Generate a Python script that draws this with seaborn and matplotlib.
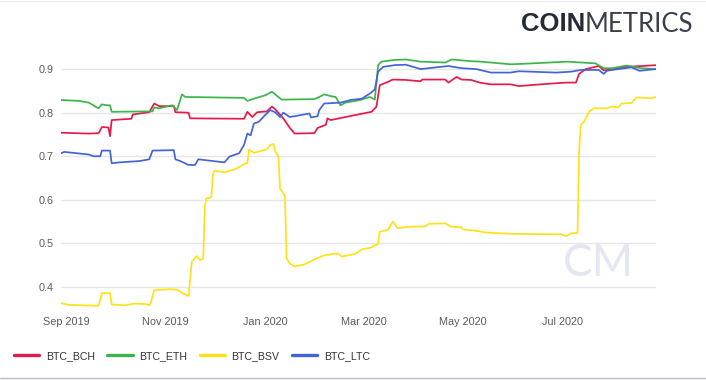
import matplotlib
matplotlib.use('Agg')
import matplotlib.pyplot as plt
import matplotlib.dates as mdates
from matplotlib.lines import Line2D
import seaborn as sns
import pandas as pd

# Correlation of each pair's returns with BTC
bch_dates = ["2019-08-29", "2019-09-15", "2019-09-21", "2019-09-23", "2019-09-27", "2019-09-28",
             "2019-09-29", "2019-10-11", "2019-10-12", "2019-10-22", "2019-10-25", "2019-10-28",
             "2019-11-06", "2019-11-07", "2019-11-15", "2019-11-16", "2019-12-19", "2019-12-21",
             "2019-12-24", "2019-12-27", "2020-01-02", "2020-01-05", "2020-01-07", "2020-01-12",
             "2020-01-16", "2020-01-19", "2020-01-31", "2020-02-02", "2020-02-07", "2020-02-08",
             "2020-02-10", "2020-02-19", "2020-03-02", "2020-03-06", "2020-03-09", "2020-03-11",
             "2020-03-15", "2020-03-19", "2020-03-27", "2020-04-05", "2020-04-06", "2020-04-20",
             "2020-04-22", "2020-04-27", "2020-04-30", "2020-05-06", "2020-05-11", "2020-05-18",
             "2020-05-30", "2020-06-04", "2020-06-21", "2020-07-03", "2020-07-09", "2020-07-11",
             "2020-07-15", "2020-07-23", "2020-07-26", "2020-08-02", "2020-08-09", "2020-08-27"]
bch_values = [0.754, 0.752, 0.753, 0.767, 0.766, 0.746,
              0.783, 0.786, 0.796, 0.801, 0.821, 0.815,
              0.815, 0.801, 0.800, 0.787, 0.786, 0.802,
              0.790, 0.801, 0.803, 0.814, 0.808, 0.787,
              0.765, 0.752, 0.753, 0.765, 0.772, 0.787,
              0.783, 0.790, 0.799, 0.802, 0.814, 0.863,
              0.869, 0.876, 0.875, 0.872, 0.876, 0.876,
              0.869, 0.882, 0.876, 0.875, 0.869, 0.865,
              0.865, 0.861, 0.866, 0.869, 0.869, 0.889,
              0.900, 0.907, 0.897, 0.900, 0.905, 0.909]

eth_dates = ["2019-08-29", "2019-09-09", "2019-09-15", "2019-09-20", "2019-09-21", "2019-09-23",
             "2019-09-26", "2019-09-28", "2019-09-29", "2019-10-24", "2019-10-25", "2019-10-28",
             "2019-11-05", "2019-11-08", "2019-11-11", "2019-11-13", "2019-12-19", "2019-12-21",
             "2019-12-24", "2020-01-01", "2020-01-05", "2020-01-08", "2020-01-11", "2020-01-31",
             "2020-02-03", "2020-02-06", "2020-02-10", "2020-02-13", "2020-02-16", "2020-02-19",
             "2020-02-28", "2020-03-05", "2020-03-08", "2020-03-10", "2020-03-12", "2020-03-20",
             "2020-03-27", "2020-04-05", "2020-04-20", "2020-04-24", "2020-05-06", "2020-05-12",
             "2020-05-30", "2020-06-06", "2020-07-04", "2020-07-21", "2020-07-26", "2020-07-31",
             "2020-08-09", "2020-08-18", "2020-08-27"]
eth_values = [0.829, 0.827, 0.823, 0.812, 0.810, 0.819,
              0.817, 0.817, 0.802, 0.803, 0.812, 0.810,
              0.817, 0.806, 0.842, 0.836, 0.834, 0.827,
              0.831, 0.840, 0.848, 0.839, 0.830, 0.831,
              0.836, 0.842, 0.838, 0.836, 0.817, 0.823,
              0.829, 0.836, 0.830, 0.909, 0.917, 0.921,
              0.922, 0.917, 0.915, 0.922, 0.918, 0.917,
              0.911, 0.912, 0.917, 0.913, 0.902, 0.902,
              0.908, 0.902, 0.900]

bsv_dates = ["2019-08-29", "2019-09-03", "2019-09-21", "2019-09-23", "2019-09-28", "2019-09-29",
             "2019-10-07", "2019-10-13", "2019-10-20", "2019-10-22", "2019-10-23", "2019-10-25",
             "2019-11-04", "2019-11-08", "2019-11-11", "2019-11-15", "2019-11-17", "2019-11-20",
             "2019-11-22", "2019-11-24", "2019-11-25", "2019-11-26", "2019-11-29", "2019-11-30",
             "2019-12-01", "2019-12-07", "2019-12-14", "2019-12-19", "2019-12-21", "2019-12-22",
             "2019-12-25", "2019-12-28", "2020-01-02", "2020-01-04", "2020-01-06", "2020-01-07",
             "2020-01-09", "2020-01-10", "2020-01-12", "2020-01-13", "2020-01-14", "2020-01-16",
             "2020-01-19", "2020-01-25", "2020-01-31", "2020-02-06", "2020-02-14", "2020-02-17",
             "2020-02-25", "2020-02-29", "2020-03-06", "2020-03-10", "2020-03-11", "2020-03-16",
             "2020-03-19", "2020-03-22", "2020-03-28", "2020-04-08", "2020-04-10", "2020-04-20",
             "2020-04-24", "2020-04-30", "2020-05-01", "2020-05-09", "2020-05-15", "2020-05-30",
             "2020-06-30", "2020-07-03", "2020-07-06", "2020-07-10", "2020-07-11", "2020-07-12",
             "2020-07-14", "2020-07-17", "2020-07-20", "2020-07-28", "2020-07-31", "2020-08-04",
             "2020-08-06", "2020-08-12", "2020-08-15", "2020-08-24", "2020-08-27"]
bsv_values = [0.363, 0.359, 0.357, 0.386, 0.386, 0.360,
              0.358, 0.362, 0.361, 0.358, 0.364, 0.393,
              0.395, 0.394, 0.387, 0.379, 0.458, 0.471,
              0.462, 0.465, 0.586, 0.603, 0.606, 0.661,
              0.667, 0.663, 0.671, 0.682, 0.684, 0.715,
              0.708, 0.711, 0.716, 0.726, 0.728, 0.712,
              0.699, 0.626, 0.615, 0.608, 0.466, 0.454,
              0.447, 0.452, 0.463, 0.473, 0.477, 0.470,
              0.476, 0.486, 0.491, 0.499, 0.527, 0.531,
              0.550, 0.535, 0.538, 0.539, 0.545, 0.546,
              0.538, 0.537, 0.532, 0.529, 0.525, 0.522,
              0.521, 0.517, 0.523, 0.524, 0.714, 0.772,
              0.779, 0.802, 0.810, 0.810, 0.814, 0.812,
              0.821, 0.822, 0.835, 0.833, 0.836]

ltc_dates = ["2019-08-29", "2019-08-31", "2019-09-15", "2019-09-18", "2019-09-22", "2019-09-23",
             "2019-09-28", "2019-09-29", "2019-10-04", "2019-10-16", "2019-10-22", "2019-10-24",
             "2019-11-06", "2019-11-07", "2019-11-10", "2019-11-15", "2019-11-19", "2019-11-21",
             "2019-11-30", "2019-12-07", "2019-12-10", "2019-12-16", "2019-12-19", "2019-12-21",
             "2019-12-23", "2019-12-25", "2019-12-28", "2020-01-01", "2020-01-04", "2020-01-07",
             "2020-01-10", "2020-01-12", "2020-01-16", "2020-01-22", "2020-01-28", "2020-01-29",
             "2020-02-02", "2020-02-03", "2020-02-06", "2020-02-16", "2020-02-22", "2020-02-29",
             "2020-03-05", "2020-03-08", "2020-03-10", "2020-03-13", "2020-03-20", "2020-03-27",
             "2020-04-05", "2020-04-17", "2020-04-22", "2020-04-30", "2020-05-09", "2020-05-18",
             "2020-05-30", "2020-06-04", "2020-06-27", "2020-07-06", "2020-07-12", "2020-07-23",
             "2020-07-26", "2020-07-28", "2020-07-31", "2020-08-12", "2020-08-17", "2020-08-27"]
ltc_values = [0.707, 0.710, 0.704, 0.700, 0.700, 0.713,
              0.713, 0.684, 0.686, 0.689, 0.693, 0.713,
              0.714, 0.693, 0.689, 0.680, 0.680, 0.693,
              0.689, 0.686, 0.699, 0.707, 0.726, 0.752,
              0.748, 0.775, 0.779, 0.795, 0.806, 0.801,
              0.790, 0.800, 0.790, 0.794, 0.798, 0.789,
              0.792, 0.806, 0.821, 0.823, 0.829, 0.832,
              0.844, 0.853, 0.894, 0.905, 0.909, 0.910,
              0.900, 0.905, 0.907, 0.902, 0.900, 0.892,
              0.892, 0.895, 0.892, 0.894, 0.898, 0.898,
              0.889, 0.896, 0.898, 0.904, 0.896, 0.900]

pairs = ["BTC_BCH", "BTC_ETH", "BTC_BSV", "BTC_LTC"]
colors = {"BTC_BCH": "#e6194b", "BTC_ETH": "#3cb44b", "BTC_BSV": "#ffe119", "BTC_LTC": "#4363d8"}

frames = []
for name, d, v in zip(pairs, [bch_dates, eth_dates, bsv_dates, ltc_dates],
                      [bch_values, eth_values, bsv_values, ltc_values]):
    frames.append(pd.DataFrame({"date": pd.to_datetime(d), "value": v, "pair": name}))
df = pd.concat(frames, ignore_index=True)

sns.set_style("white")
plt.rcParams['font.family'] = ['Liberation Sans', 'DejaVu Sans']

fig = plt.figure(figsize=(7.06, 3.80), dpi=100)
ax = fig.add_axes([61 / 706, 1 - 311 / 380, 595 / 706, 255 / 380])

sns.lineplot(data=df, x="date", y="value", hue="pair", hue_order=pairs, palette=colors,
             linewidth=1.25, estimator=None, ax=ax, zorder=3)

ax.set_xlim(pd.Timestamp("2019-08-29"), pd.Timestamp("2020-08-27"))
ax.set_ylim(0.345, 0.93)
ax.set_yticks([0.4, 0.5, 0.6, 0.7, 0.8, 0.9])
ax.yaxis.set_major_formatter(plt.FormatStrFormatter('%.1f'))
ax.xaxis.set_major_locator(mdates.MonthLocator(bymonth=[1, 3, 5, 7, 9, 11]))
ax.xaxis.set_major_formatter(mdates.DateFormatter('%b %Y'))
ax.grid(axis='y', color='#e6e6e6', linewidth=1)
ax.grid(axis='x', visible=False)
ax.tick_params(axis='both', length=0, labelsize=7.8, labelcolor='#5a5a5a')
ax.tick_params(axis='x', pad=4.5)
ax.tick_params(axis='y', pad=5.5)
ax.set_xlabel('')
ax.set_ylabel('')
sns.despine(ax=ax, left=True, bottom=True)

# watermark
ax.text(0.903, 0.185, 'CM', transform=ax.transAxes, ha='center', va='center',
        fontsize=32, color='#e4e7ef', family=['Lato', 'DejaVu Sans'], zorder=0)

# legend below the chart
handles, labels = ax.get_legend_handles_labels()
ax.get_legend().remove()
for h in handles:
    h.set_linewidth(2.4)
fig.legend(handles, labels, loc='center left', bbox_to_anchor=(14 / 706, 1 - 356 / 380),
           ncol=4, frameon=False, fontsize=7.6, handlelength=2.4, handletextpad=0.6,
           columnspacing=1.2, borderpad=0, borderaxespad=0, labelcolor='#333333')

# logo
fig.text(585 / 706, 1 - 24 / 380, 'COIN', ha='right', va='center', fontsize=18.5,
         fontweight='bold', color='#262a36')
fig.text(585 / 706, 1 - 24 / 380, 'METRICS', ha='left', va='center', fontsize=18.5,
         fontweight='normal', color='#3a3e4a', family=['Lato', 'Liberation Sans'])

# frame lines of the screenshot
fig.add_artist(Line2D([0, 1], [1 - 377.5 / 380] * 2, color='#b9bcc4', linewidth=1))
fig.add_artist(Line2D([0, 1], [1 - 0.5 / 380] * 2, color='#eeeeee', linewidth=1))

plt.savefig('out.png', dpi=100)
plt.close()
